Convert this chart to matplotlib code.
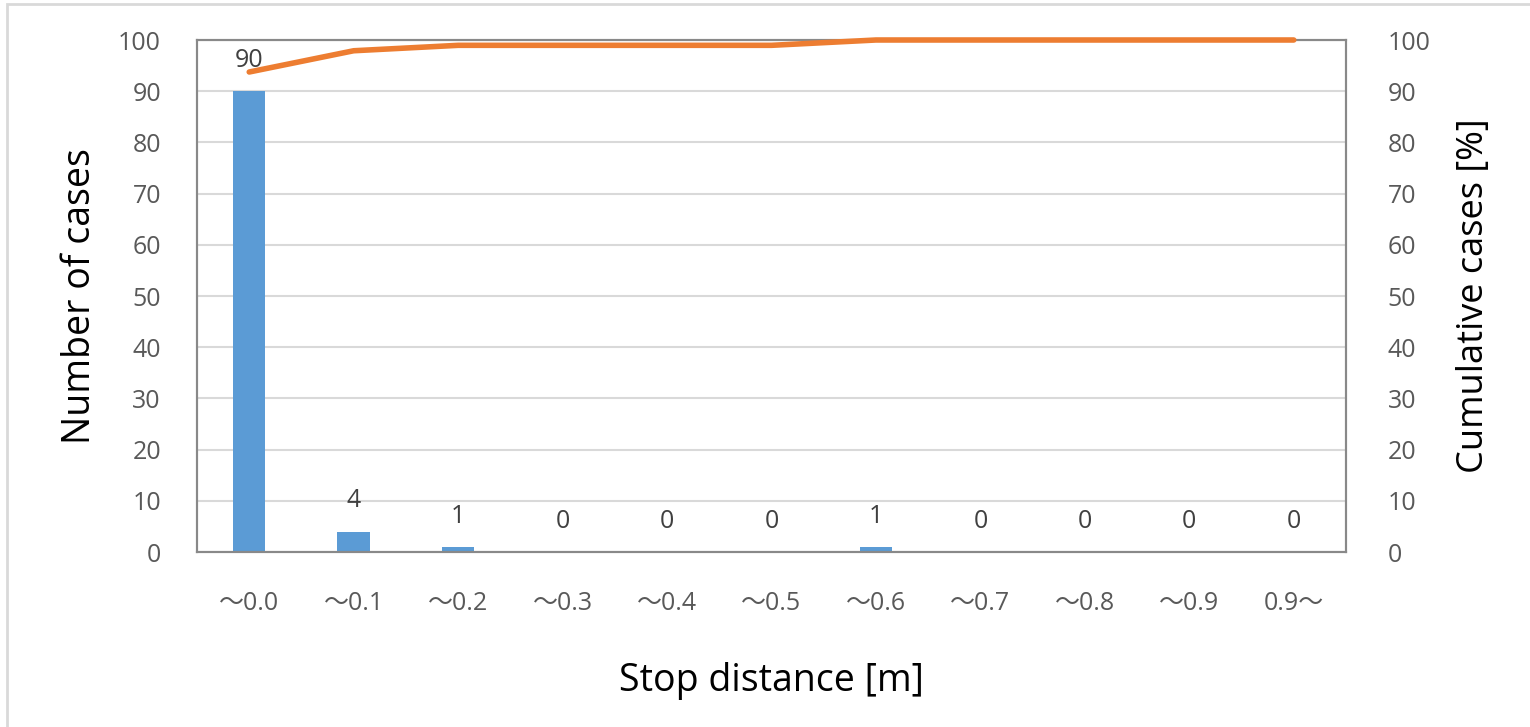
import numpy as np
import matplotlib.pyplot as plt
from matplotlib.patches import Rectangle

plt.rcParams['font.family'] = ['Open Sans', 'Noto Sans CJK JP', 'DejaVu Sans']

categories = ['〜0.0', '〜0.1', '〜0.2', '〜0.3', '〜0.4', '〜0.5',
              '〜0.6', '〜0.7', '〜0.8', '〜0.9', '0.9〜']
counts = [90, 4, 1, 0, 0, 0, 1, 0, 0, 0, 0]
cumulative = [93.75, 97.9, 98.96, 98.96, 98.96, 98.96, 100, 100, 100, 100, 100]

barColor = '#5b9bd5'
lineColor = '#ed7d31'
tickColor = '#595959'
spineColor = '#898989'

fig = plt.figure(figsize=(15.3, 7.27), dpi=100, facecolor='w')
# light frame round the chart area, open at the bottom
fig.patches.append(Rectangle((7/1530, -0.1), 1.2, 1 - 4/727 + 0.1, transform=fig.transFigure,
                             fill=False, ec='#d9d9d9', lw=2))

ax1 = fig.add_axes([197/1530, 1 - 552/727, (1346 - 197)/1530, (552 - 40)/727])
x = np.arange(len(categories))
ax1.bar(x, counts, width=0.31, color=barColor, zorder=2)
ax1.set_xlim(-0.5, len(categories) - 0.5)
ax1.set_ylim(0, 100)
ax1.set_yticks(np.arange(0, 101, 10))
ax1.set_xticks(x)
ax1.set_xticklabels(categories)
ax1.grid(axis='y', color='#d9d9d9', lw=1.5, zorder=0)
ax1.set_axisbelow(True)
ax1.tick_params(axis='both', length=0, labelsize=18, colors=tickColor)
ax1.tick_params(axis='x', pad=28)
ax1.tick_params(axis='y', pad=26)
for spine in ax1.spines.values():
    spine.set_edgecolor(spineColor)
    spine.set_linewidth(1.5)
ax1.set_ylabel('Number of cases', fontsize=27, labelpad=14)
ax1.set_xlabel('Stop distance [m]', fontsize=27, labelpad=33)

# value labels above bars
for xi, v in zip(x, counts):
    ax1.annotate(str(v), (xi, v), xytext=(0, 22), textcoords='offset points',
                 ha='center', va='center', fontsize=18, color='#404040')

ax2 = ax1.twinx()
ax2.plot(x, cumulative, color=lineColor, lw=4, solid_capstyle='round', solid_joinstyle='round',
         clip_on=False, zorder=5)
ax2.set_ylim(0, 100)
ax2.set_yticks(np.arange(0, 101, 10))
ax2.tick_params(axis='y', length=0, labelsize=18, colors=tickColor, pad=30)
for spine in ax2.spines.values():
    spine.set_edgecolor(spineColor)
    spine.set_linewidth(1.5)
ax2.set_ylabel('Cumulative cases [%]', fontsize=26, labelpad=18)

fig.savefig('out.png', dpi=100)
